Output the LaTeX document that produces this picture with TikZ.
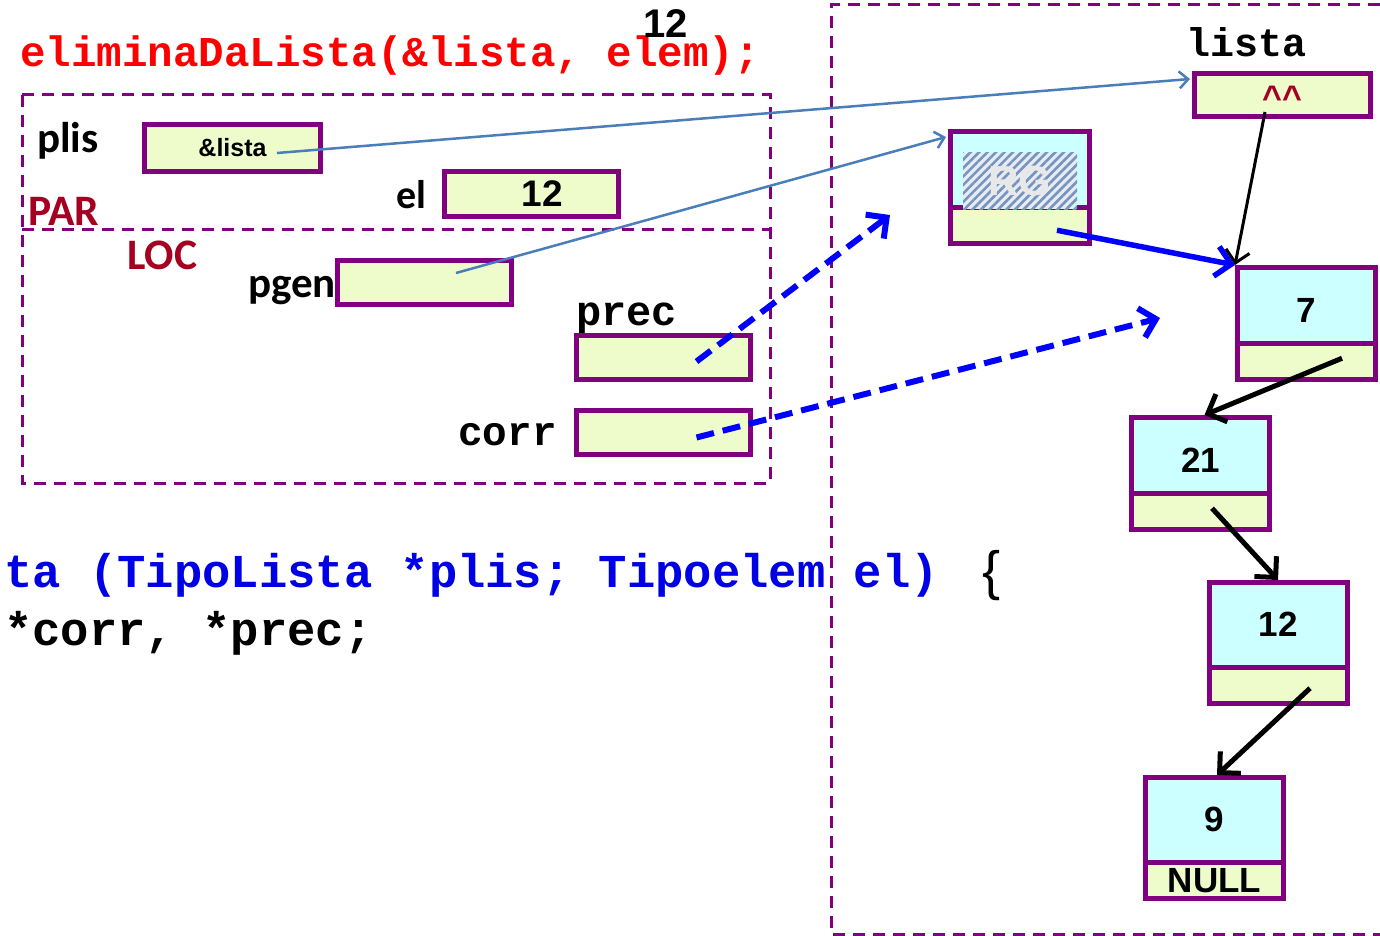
\documentclass[tikz,border=0pt]{standalone}
\usepackage{fontspec}
\setmainfont{Liberation Sans}
\newfontfamily\codefont{Liberation Mono}
\newfontfamily\labelfont{Carlito}
\usetikzlibrary{arrows.meta,patterns.meta}

\definecolor{frame}{HTML}{800080}
\definecolor{cellyel}{HTML}{EEFCCC}
\definecolor{cellcyan}{HTML}{CCFFFF}
\definecolor{labred}{HTML}{A50021}
\definecolor{linkblue}{HTML}{4A7EBB}
\definecolor{ptrblue}{HTML}{0000FF}
\definecolor{codeblue}{HTML}{0000E6}
\definecolor{callred}{HTML}{FF0000}
\definecolor{hatchbase}{HTML}{E6ECF4}
\definecolor{hatchline}{HTML}{7894BC}
\definecolor{rgtext}{HTML}{E8E8E8}

\newcommand{\setfs}[1]{\fontsize{#1pt}{#1pt}\selectfont}

\tikzset{
  framedash/.style={draw=frame, line width=3pt, dash pattern=on 12pt off 8pt},
  varbox/.style={draw=frame, line width=5pt, fill=cellyel, inner sep=0pt,
                 minimum width=174pt, minimum height=44pt},
  datapart/.style={draw=frame, line width=5pt, fill=cellcyan, inner sep=0pt,
                   minimum width=138pt, font=\bfseries\setfs{35}},
  linkpart/.style={draw=frame, line width=5pt, fill=cellyel, inner sep=0pt,
                   minimum width=138pt, minimum height=36.5pt},
  txt/.style={inner sep=0pt, anchor=base west},
  varlabel/.style={txt, font=\labelfont\bfseries\setfs{#1}},
  addrlink/.style={draw=linkblue, line width=2.5pt,
                   -{Straight Barb[length=9pt,width=17pt,line width=2.5pt]}},
  headlink/.style={draw=black, line width=3pt,
                   -{Straight Barb[length=12pt,width=24pt,line width=3pt]}},
  nextlink/.style={draw=black, line width=5pt,
                   -{Straight Barb[length=15pt,width=30pt,line width=5pt]}},
  ptrsolid/.style={draw=ptrblue, line width=5.5pt,
                   -{Straight Barb[length=15pt,width=30pt,line width=5.5pt]}},
  ptrdash/.style={draw=ptrblue, line width=6pt, dash pattern=on 18pt off 9pt,
                  -{Straight Barb[length=15pt,width=30pt,line width=6pt]}},
}

\begin{document}
\begin{tikzpicture}[x=1pt, y=-1pt]
  \useasboundingbox[fill=white] (0,0) rectangle (1380,936);

  % activation record and heap frames
  \draw[framedash] (22,95) rectangle (770,483);
  \draw[framedash] (22,229) -- (770,229);
  \draw[framedash] (1380,5) -- (831,5) -- (831,934) -- (1380,934);

  % call and function header
  \node[txt, text=callred, font=\codefont\bfseries\setfs{42.5}] (call) at (20,67) {eliminaDaLista(\&lista, elem);};
  \node[txt, font=\bfseries\setfs{40}] (elemval) at (643,38) {12};
  \node[txt, text=codeblue, font=\codefont\bfseries\setfs{47.2}] (sig) at (4,587) {ta (TipoLista *plis; Tipoelem el)};
  \node[txt, font=\setfs{54}] (brace) at (982,589) {\{};
  \node[txt, font=\codefont\bfseries\setfs{47.2}] (decl) at (4,645) {*corr, *prec;};

  % parameters
  \node[varlabel=43] (plislab) at (37,153) {plis};
  \node[varbox, minimum width=176pt, minimum height=47pt, font=\bfseries\setfs{25}] (plis) at (232.5,148) {\&lista};
  \node[varlabel=40] (ellab) at (396,208) {el};
  \node[varbox, font=\bfseries\setfs{37}] (el) at (531.5,194) {\hspace*{22pt}12};
  \node[varlabel=43.5, text=labred] (par) at (28,225) {PAR};

  % local variables
  \node[varlabel=43.5, text=labred] (loc) at (127,269) {LOC};
  \node[varlabel=43] (pgenlab) at (248,297) {pgen};
  \node[varbox] (pgen) at (424,282.5) {};
  \node[txt, font=\codefont\bfseries\setfs{42}] (preclab) at (576,325) {prec};
  \node[varbox] (prec) at (663.5,357.5) {};
  \node[txt, font=\codefont\bfseries\setfs{41}] (corrlab) at (458,445) {corr};
  \node[varbox] (corr) at (663.5,432.5) {};

  % head pointer
  \node[txt, font=\codefont\bfseries\setfs{40}] (listalab) at (1186,57) {lista};
  \node[varbox, minimum width=176pt, minimum height=43pt] (lista) at (1282.5,95) {};
  \node[inner sep=0pt, anchor=base, text=labred, font=\bfseries\setfs{34}] (caret) at (1282,110) {\textasciicircum\textasciicircum};

  % block created by the allocation
  \node[datapart, minimum width=139pt, minimum height=75.5pt] (rgtop) at (1020,169.25) {};
  \node[linkpart, minimum width=139pt] (rgbot) at (1020,225.25) {};
  \node[inner sep=0pt, minimum width=114pt, minimum height=56pt,
        preaction={fill=hatchbase},
        pattern={Lines[angle=45,distance=6pt,line width=2.6pt]}, pattern color=hatchline,
        text=rgtext, font=\bfseries\setfs{42}] (rgmark) at (1020,181) {RG};

  % list cells
  \node[datapart, minimum height=75.5pt, text height=35pt, text depth=0pt] (n7t) at (1306.5,305.25) {7};
  \node[linkpart] (n7p) at (1306.5,361.25) {};
  \node[datapart, minimum height=75.5pt, text height=35pt, text depth=0pt] (n21t) at (1200.5,455.25) {21};
  \node[linkpart] (n21p) at (1200.5,511.25) {};
  \node[datapart, minimum height=84.5pt] (n12t) at (1278,624.75) {12};
  \node[linkpart] (n12p) at (1278,685.25) {};
  \node[datapart, minimum height=84.5pt] (n9t) at (1214.5,819.75) {9};
  \node[linkpart, font=\bfseries\setfs{35}] (n9p) at (1214.5,880.25) {NULL};

  % connector end points
  \coordinate (plisOut) at ([xshift=44.5pt,yshift=-5pt]plis.center);
  \coordinate (listaIn) at ([xshift=-2pt,yshift=16pt]lista.west);
  \coordinate (pgenOut) at ([xshift=32pt,yshift=9.5pt]pgen.center);
  \coordinate (rgIn) at ([xshift=-2pt,yshift=-8pt]rgtop.north west);
  \coordinate (listaOut) at ([xshift=-17.5pt,yshift=-17pt]lista.center);
  \coordinate (rgOut) at ([xshift=37pt,yshift=-5pt]rgbot.center);
  \coordinate (precOut) at ([xshift=33pt,yshift=-4pt]prec.center);
  \coordinate (precTo) at (890,215);
  \coordinate (corrOut) at ([xshift=33pt,yshift=-5pt]corr.center);
  \coordinate (corrTo) at (1160,318);
  \coordinate (n7Out) at ([xshift=35.5pt,yshift=3pt]n7p.center);
  \coordinate (n21Out) at ([xshift=11.5pt,yshift=3pt]n21p.center);
  \coordinate (n12Out) at ([xshift=32pt,yshift=-3pt]n12p.center);

  % connectors
  \draw[addrlink] (plisOut) -- (listaIn);
  \draw[addrlink] (pgenOut) -- (rgIn);
  \draw[headlink] (listaOut) -- (n7t.north west);
  \draw[ptrsolid] (rgOut) -- (n7t.north west);
  \draw[ptrdash] (precOut) -- (precTo);
  \draw[ptrdash] (corrOut) -- (corrTo);
  \draw[nextlink] (n7Out) -- ([xshift=4pt]n21t.north);
  \draw[nextlink] (n21Out) -- (n12t.north);
  \draw[nextlink] (n12Out) -- ([xshift=2.5pt]n9t.north);
\end{tikzpicture}
\end{document}
